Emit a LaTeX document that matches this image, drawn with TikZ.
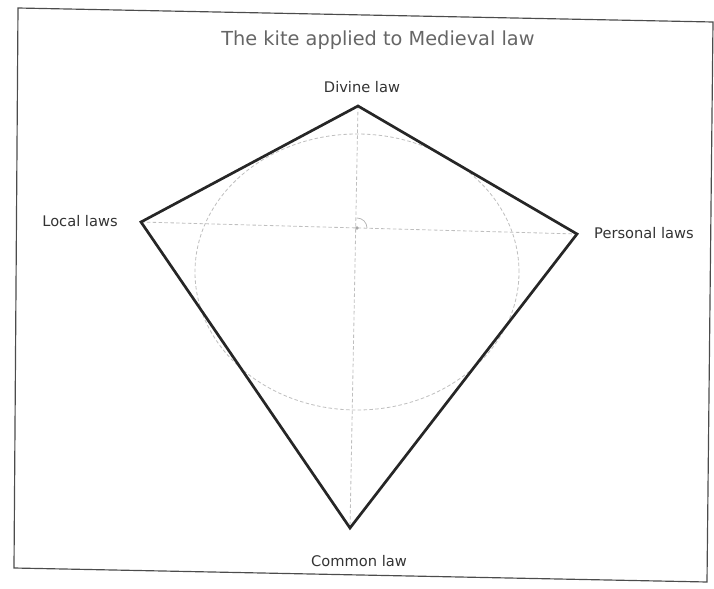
\documentclass[tikz,border=0pt]{standalone}
\usepackage{fontspec}
\setmainfont{DejaVu Sans}
\usepackage{tikz}

\begin{document}
\begin{tikzpicture}[x=0.03cm, y=-0.03cm,
	kite/.style={line width=2.3pt, line join=miter, black!85},
	guide/.style={gray!50, densely dashed, line width=0.7pt},
	lab/.style={font=\fontsize{12.5}{14}\selectfont, text=black!80, inner sep=0pt}]
	\useasboundingbox (0,0) rectangle (714,589);
	\draw [line width=1pt, black!70] (18,8) -- (713,22) -- (707,582) -- (14,568) -- cycle;
	\node (title) [font=\fontsize{16.5}{18}\selectfont, text=black!60, inner sep=0pt] at (378,40) {The kite applied to Medieval law};
	% corners of the kite
	\coordinate (top) at (358,106);
	\coordinate (left) at (141,222);
	\coordinate (right) at (577,234);
	\coordinate (bottom) at (350,528);
	\coordinate (centre) at (357,228);
	% circle and axes
	\draw [guide] (357,272) ellipse [x radius=4.86cm, y radius=4.14cm];
	\draw [guide] (left) -- (right);
	\draw [guide] (top) -- (bottom);
	\draw [gray!60, line width=0.6pt] (centre) ++(0.3cm,0) arc [start angle=0, end angle=90, radius=0.3cm];
	\fill [gray!70] (centre) circle (1.5pt);
	% the kite
	\draw [kite] (top) -- (right) -- (bottom) -- (left) -- cycle;
	\node (divine) [lab] at (362,87) {Divine law};
	\node (local) [lab] at (80,221) {Local laws};
	\node (personal) [lab] at (644,233) {Personal laws};
	\node (common) [lab] at (359,561) {Common law};
\end{tikzpicture}
\end{document}
